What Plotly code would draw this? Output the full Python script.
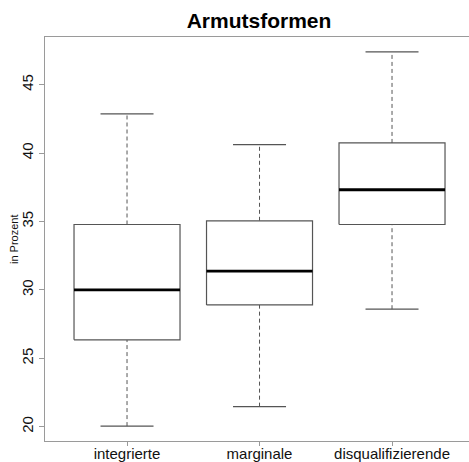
import plotly.graph_objects as go

categories = ["integrierte", "marginale", "disqualifizierende"]
lower_whisker = [20.05, 21.47, 28.59]
q1 = [26.35, 28.90, 34.78]
median = [30.00, 31.37, 37.32]
q3 = [34.78, 35.05, 40.74]
upper_whisker = [42.86, 40.61, 47.39]
y_ticks = [20, 25, 30, 35, 40, 45]

positions = [1, 2, 3]
half_box = 0.4
half_cap = 0.2
box_color = "#555555"
frame_color = "#9a9a9a"
font_family = "Liberation Sans, Arial, sans-serif"

fig = go.Figure()
for i, c in enumerate(positions):
    # whiskers (dashed)
    fig.add_trace(go.Scatter(
        x=[c, c, None, c, c],
        y=[q3[i], upper_whisker[i], None, lower_whisker[i], q1[i]],
        mode="lines", line=dict(color=box_color, width=1, dash="4px,3px"),
        hoverinfo="skip", showlegend=False))
    # caps
    fig.add_trace(go.Scatter(
        x=[c - half_cap, c + half_cap, None, c - half_cap, c + half_cap],
        y=[upper_whisker[i], upper_whisker[i], None, lower_whisker[i], lower_whisker[i]],
        mode="lines", line=dict(color=box_color, width=1.2),
        hoverinfo="skip", showlegend=False))
    # box
    fig.add_trace(go.Scatter(
        x=[c - half_box, c + half_box, c + half_box, c - half_box, c - half_box],
        y=[q1[i], q1[i], q3[i], q3[i], q1[i]],
        mode="lines", line=dict(color=box_color, width=1.2),
        fill="toself", fillcolor="white",
        hoverinfo="skip", showlegend=False))
    # median
    fig.add_trace(go.Scatter(
        x=[c - half_box, c + half_box],
        y=[median[i], median[i]],
        mode="lines", line=dict(color="black", width=2.8),
        hoverinfo="skip", showlegend=False))

fig.update_layout(
    width=469, height=462,
    margin=dict(l=45, r=0, t=37, b=21, autoexpand=False),
    paper_bgcolor="white", plot_bgcolor="white",
    font=dict(family=font_family, color="#111111"),
    title=dict(text="<b>Armutsformen</b>", x=259/469, xanchor="center",
               y=1 - 28/462, yanchor="bottom",
               font=dict(size=21, color="black", family=font_family)),
    annotations=[dict(
        text="in Prozent", xref="paper", yref="paper",
        x=(14 - 45) / 424, y=0.5, xanchor="center", yanchor="middle",
        textangle=-90, showarrow=False,
        font=dict(size=11, color="#111111", family=font_family))],
)
fig.update_xaxes(
    range=[0.381, 3.581], tickvals=positions, ticktext=categories,
    automargin=False,
    showgrid=False, zeroline=False,
    showline=True, linecolor=frame_color, linewidth=1.3, mirror=True,
    ticks="outside", ticklen=4, tickcolor=frame_color,
    ticklabelstandoff=-5,
    tickfont=dict(size=15, color="#111111"),
)
fig.update_yaxes(
    range=[18.96, 48.48], tickvals=y_ticks,
    automargin=False,
    showgrid=False, zeroline=False,
    showline=True, linecolor=frame_color, linewidth=1.3, mirror=False,
    ticks="outside", ticklen=5, tickcolor=frame_color,
    tickangle=-90, tickfont=dict(size=15, color="#111111"),
)

fig.write_html("out.html", config={"displayModeBar": False},
               post_script="document.body.style.margin='0px';")
